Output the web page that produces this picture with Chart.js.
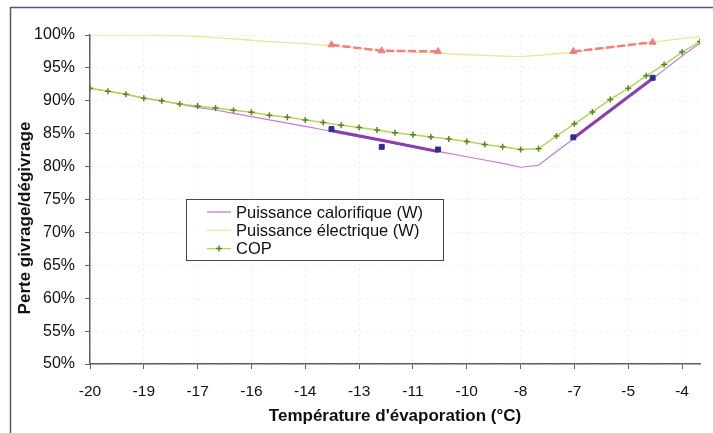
<!DOCTYPE html>
<html>
<head>
<meta charset="utf-8">
<script src="https://cdn.jsdelivr.net/npm/chart.js@4.4.0/dist/chart.umd.min.js"></script>
<style>
  html, body { margin: 0; padding: 0; background: #fff; }
</style>
</head>
<body>
<canvas id="chartGivrage" width="713" height="433"></canvas>
<script>
// temperatures d'evaporation (°C), un point tous les 0,5
const temperatures = [-20, -19.5, -19, -18.5, -18, -17.5, -17, -16.5, -16, -15.5, -15, -14.5, -14, -13.5, -13, -12.5,
  -12, -11.5, -11, -10.5, -10, -9.5, -9, -8.5, -8, -7.5, -7, -6.5, -6, -5.5, -5, -4.5, -4, -3.5, -3];

const puissanceCalorifique = [91.9, 91.45, 91.0, 90.4, 90.0, 89.5, 89.0, 88.6, 88.1, 87.6, 87.1, 86.6, 86.1, 85.6, 85.0, 84.5,
  84.0, 83.5, 83.0, 82.5, 82.0, 81.5, 81.0, 80.5, 79.9, 80.2, 82.3, 84.3, 86.4, 88.5, 90.6, 92.6, 94.7, 96.8, 98.8];

const puissanceElectrique = [100, 100, 100, 100, 99.95, 99.9, 99.8, 99.6, 99.4, 99.2, 99.0, 98.85, 98.7, 98.45, 98.2, 98.0,
  97.8, 97.6, 97.45, 97.3, 97.15, 97.0, 96.9, 96.8, 96.7, 96.9, 97.15, 97.4, 97.75, 98.1, 98.45, 98.8, 99.15, 99.45, 99.75];

const cop = [91.9, 91.45, 91.0, 90.4, 90.0, 89.5, 89.2, 88.9, 88.55, 88.25, 87.8, 87.5, 87.1, 86.7, 86.3, 85.95,
  85.55, 85.15, 84.85, 84.5, 84.2, 83.8, 83.35, 83.0, 82.6, 82.7, 84.65, 86.5, 88.3, 90.2, 91.9, 93.8, 95.5, 97.4, 99.0];

// points de mesure
const tempMesures = [-13.27, -11.87, -10.3, -6.53, -4.32];
const calorifiqueMesures = [85.7, 83.0, 82.6, 84.45, 93.5];
const electriqueMesures = [98.5, 97.6, 97.5, 97.5, 98.9];
// trait epais sur la courbe calorifique entre les mesures
const calorifiqueTrait = [85.5, 84.0, 82.3, 84.3, 93.4];

const xTicks = [-20, -18.5, -17, -15.5, -14, -12.5, -11, -9.5, -8, -6.5, -5, -3.5];
const xTickLabels = ['-20', '-19', '-17', '-16', '-14', '-13', '-11', '-10', '-8', '-7', '-5', '-4'];
const yTicks = [50, 55, 60, 65, 70, 75, 80, 85, 90, 95, 100];

const police = '"Liberation Sans", Arial, sans-serif';

function points(xs, ys){
    return xs.map((x, i) => ({ x: x, y: ys[i] }));
}

// pas de trait entre la 3e et la 4e mesure
const coupure = ctx => ctx.p0DataIndex === 2 ? 'rgba(0,0,0,0)' : undefined;

const cadre = {
    id: 'cadre',
    beforeDraw(chart){
        const c = chart.ctx;
        c.save();
        c.fillStyle = '#fff';
        c.fillRect(0, 0, chart.width, chart.height);
        c.strokeStyle = '#5b5670';
        c.lineWidth = 1.5;
        c.beginPath();
        c.moveTo(10.5, chart.height);
        c.lineTo(10.5, 7.5);
        c.lineTo(chart.width, 7.5);
        c.stroke();
        c.restore();
    },
    afterDraw(chart){
        const c = chart.ctx;
        c.save();
        // titre axe Y
        c.translate(25, 218);
        c.rotate(-Math.PI / 2);
        c.font = 'bold 17px ' + police;
        c.fillStyle = '#111';
        c.textAlign = 'center';
        c.textBaseline = 'middle';
        c.fillText('Perte givrage/dégivrage', 0, 0);
        c.restore();

        // legende
        const bx = 186, by = 199, bw = 257, bh = 61;
        c.save();
        c.fillStyle = '#fff';
        c.fillRect(bx, by, bw, bh);
        c.strokeStyle = '#444';
        c.lineWidth = 1;
        c.strokeRect(bx + 0.5, by + 0.5, bw, bh);
        c.font = '16.5px ' + police;
        c.textBaseline = 'middle';
        chart.data.datasets.slice(0, 3).forEach((ds, i) => {
            const y = by + 13 + i * 18.3;
            c.strokeStyle = ds.borderColor;
            c.lineWidth = 1.3;
            c.beginPath();
            c.moveTo(bx + 21, y);
            c.lineTo(bx + 45, y);
            c.stroke();
            if (ds.pointStyle === 'cross') {
                c.strokeStyle = ds.pointBorderColor;
                c.lineWidth = 1.5;
                c.beginPath();
                c.moveTo(bx + 33, y - 3); c.lineTo(bx + 33, y + 3);
                c.moveTo(bx + 30, y); c.lineTo(bx + 36, y);
                c.stroke();
            }
            c.fillStyle = '#111';
            c.fillText(ds.label, bx + 50, y + 1);
        });
        c.restore();
    }
};

document.addEventListener("DOMContentLoaded", () => {

    const ctx = document.getElementById("chartGivrage");

    new Chart(ctx, {
        type: "line",
        data: {
            datasets: [
                {
                    label: "Puissance calorifique (W)",
                    data: points(temperatures, puissanceCalorifique),
                    borderColor: "#c77bd8",
                    borderWidth: 1.2,
                    pointRadius: 0,
                    tension: 0,
                    order: 5
                },
                {
                    label: "Puissance électrique (W)",
                    data: points(temperatures, puissanceElectrique),
                    borderColor: "#f0e39a",
                    borderWidth: 1.3,
                    pointRadius: 0,
                    tension: 0,
                    order: 6
                },
                {
                    label: "COP",
                    data: points(temperatures, cop),
                    borderColor: "#b9d35a",
                    borderWidth: 1.5,
                    pointStyle: "cross",
                    pointRadius: 3,
                    pointBorderWidth: 1.5,
                    pointBorderColor: "#4f8a1e",
                    tension: 0,
                    order: 4
                },
                {
                    label: "trait calorifique",
                    data: points(tempMesures, calorifiqueTrait),
                    borderColor: "#8b3fae",
                    borderWidth: 3,
                    pointRadius: 0,
                    segment: { borderColor: coupure },
                    order: 3
                },
                {
                    label: "mesure calorifique",
                    data: points(tempMesures, calorifiqueMesures),
                    showLine: false,
                    pointStyle: "rect",
                    pointRadius: 3.5,
                    backgroundColor: "#2b2f8f",
                    borderColor: "#2b2f8f",
                    order: 1
                },
                {
                    label: "mesure électrique",
                    data: points(tempMesures, electriqueMesures),
                    borderColor: "#f27f7f",
                    backgroundColor: "#f27f7f",
                    borderWidth: 2.5,
                    borderDash: [8, 3],
                    pointStyle: "triangle",
                    pointRadius: 4,
                    pointBorderWidth: 1,
                    segment: { borderColor: coupure },
                    order: 2
                }
            ]
        },
        options: {
            responsive: false,
            animation: false,
            layout: { padding: { top: 35, right: 13, left: 0, bottom: 0 } },
            plugins: {
                legend: { display: false },
                tooltip: { enabled: false }
            },
            scales: {
                x: {
                    type: "linear",
                    min: -20,
                    max: -3,
                    afterBuildTicks: s => { s.ticks = xTicks.map(v => ({ value: v })); },
                    afterFit: s => { s.height = 69; },
                    ticks: {
                        callback: (v, i) => xTickLabels[i],
                        autoSkip: false,
                        maxRotation: 0,
                        padding: 13,
                        color: "#111",
                        font: { family: police, size: 15.5 }
                    },
                    grid: {
                        color: "rgba(0,0,0,0.08)",
                        tickColor: "#5e5a78",
                        tickLength: 5,
                        tickBorderDash: []
                    },
                    border: { color: "#5e5a78", width: 1.5, dash: [2, 4] },
                    title: {
                        display: true,
                        text: "Température d'évaporation (°C)",
                        color: "#111",
                        font: { family: police, size: 17, weight: "bold" },
                        padding: { top: 0, bottom: 6 }
                    }
                },
                y: {
                    min: 50,
                    max: 100,
                    afterBuildTicks: s => { s.ticks = yTicks.map(v => ({ value: v })); },
                    afterFit: s => { s.width = 90; },
                    ticks: {
                        callback: v => v + "%",
                        padding: 10,
                        color: "#111",
                        font: { family: police, size: 16 }
                    },
                    grid: {
                        color: "rgba(0,0,0,0.08)",
                        tickColor: "#5e5a78",
                        tickLength: 5,
                        tickBorderDash: []
                    },
                    border: { color: "#5e5a78", width: 1.5, dash: [2, 4] }
                }
            }
        },
        plugins: [cadre]
    });
});
</script>
</body>
</html>
